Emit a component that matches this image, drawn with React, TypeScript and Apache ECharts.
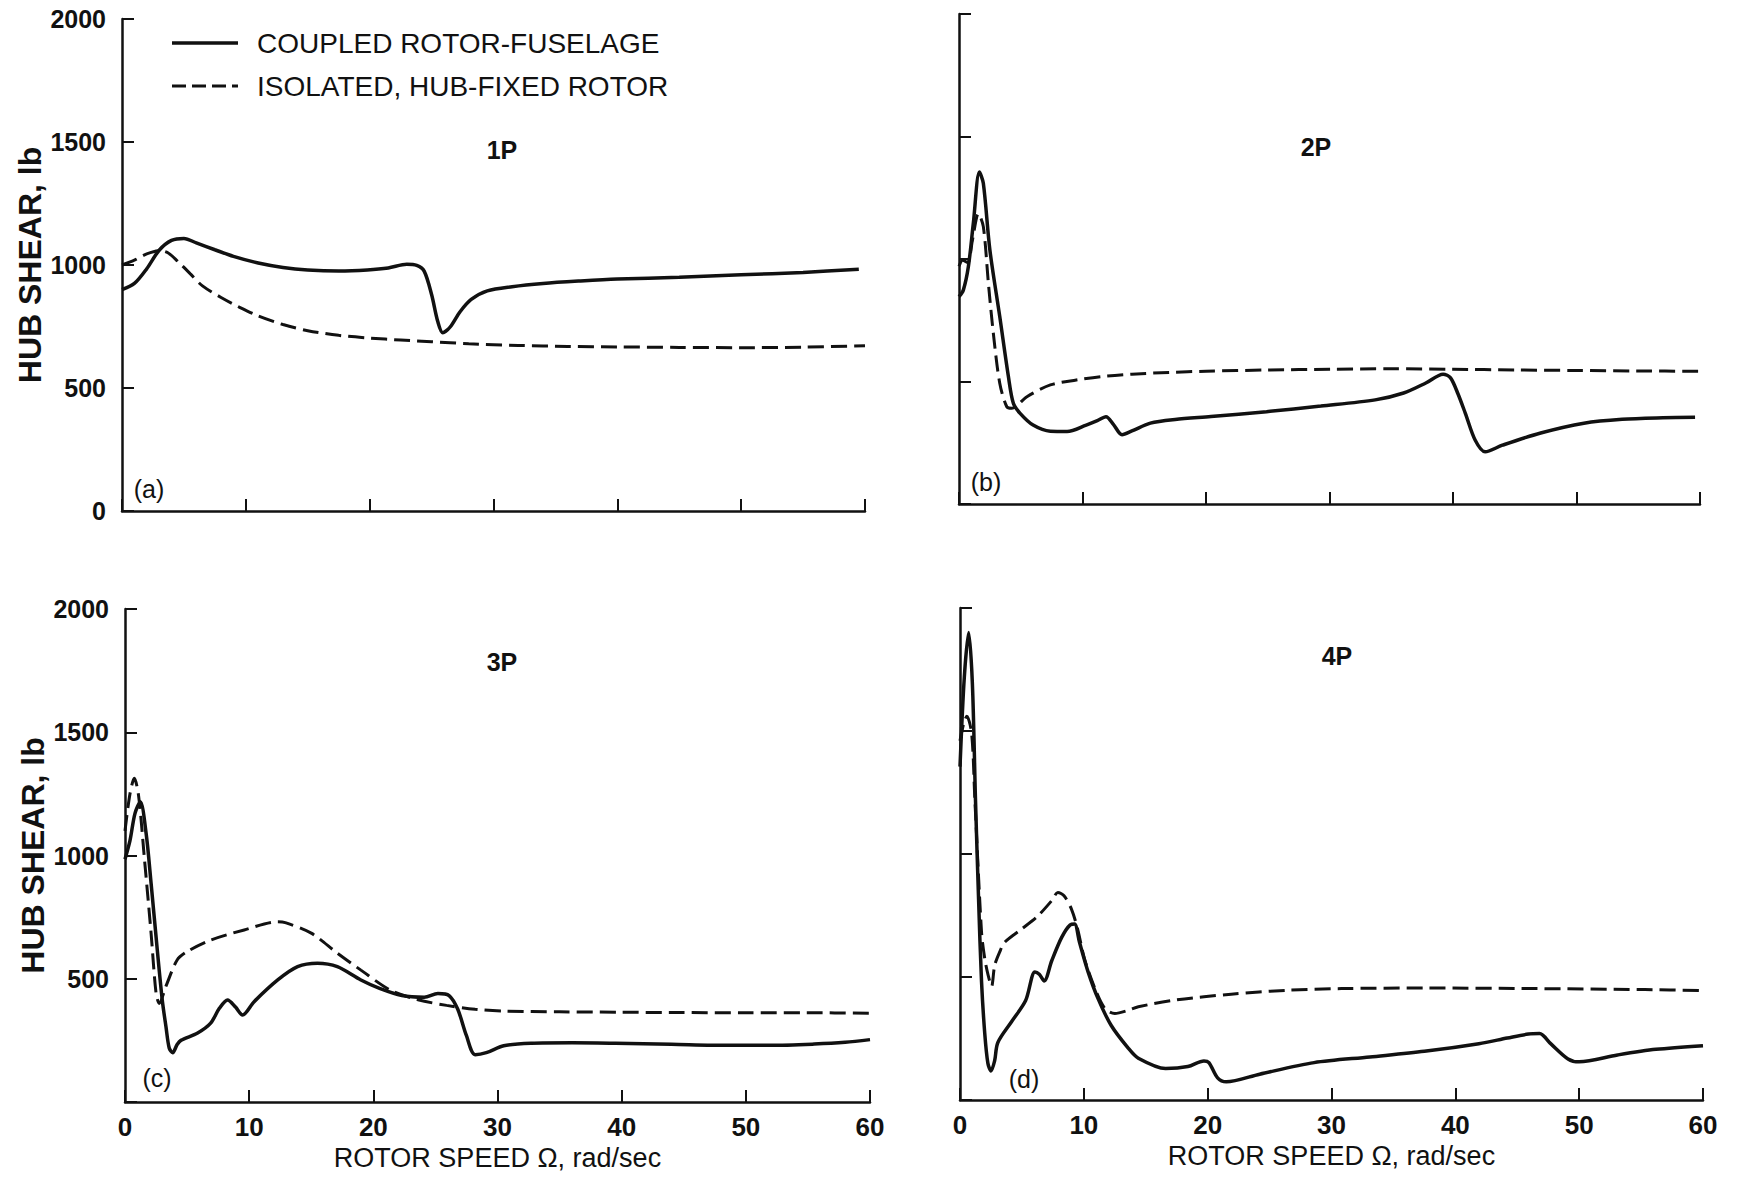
import React, { useEffect, useRef } from "react";
import * as echarts from "echarts";

// Rotor speed Ω (rad/sec) vs hub shear (lb)
const xTicks = [0, 10, 20, 30, 40, 50, 60];
const yTicks = [0, 500, 1000, 1500, 2000];
const seriesNames = ["COUPLED ROTOR-FUSELAGE", "ISOLATED, HUB-FIXED ROTOR"];
const panelHarmonics = ["1P", "2P", "3P", "4P"];
const panelTags = ["(a)", "(b)", "(c)", "(d)"];

const coupled1P: number[][] = [
  [0, 900], [1, 925], [2, 985], [3, 1060], [4, 1100], [5, 1108], [6, 1090], [7.5, 1062], [9, 1035],
  [11, 1008], [13, 990], [15, 980], [17.5, 976], [19.8, 980], [21.5, 988], [23, 1003], [23.8, 998],
  [24.4, 975], [25, 880], [25.5, 770], [25.9, 725], [26.5, 748], [27.3, 810], [28.2, 860], [29.5, 895],
  [31.5, 912], [34, 925], [37, 935], [40, 943], [45, 950], [50, 960], [55, 970], [59.5, 983],
];
const isolated1P: number[][] = [
  [0, 1000], [1, 1020], [2, 1045], [3, 1058], [3.7, 1050], [4.5, 1015], [5.5, 965], [6.5, 915], [8, 868],
  [9.5, 828], [11, 793], [13, 758], [15, 733], [17.5, 714], [20, 703], [22.5, 695], [25, 688], [28, 680],
  [32, 673], [36, 669], [40, 667], [45, 665], [50, 664], [55, 666], [60, 672],
];
const coupled2P: number[][] = [
  [0, 846], [0.35, 873], [0.76, 969], [1.16, 1146], [1.65, 1355], [1.97, 1309], [2.5, 1037], [3.3, 765],
  [4.0, 520], [4.4, 411], [4.95, 370], [6.0, 322], [7.4, 297], [8.75, 296], [10.3, 322], [11.2, 340],
  [11.9, 356], [12.5, 325], [13.2, 283], [14, 298], [15.5, 330], [17.5, 345], [20.4, 357], [24.9, 377],
  [29.3, 400], [33.7, 425], [36, 453], [37.8, 494], [39.2, 530], [39.8, 515], [40.4, 450], [41, 370],
  [41.8, 260], [42.6, 213], [44, 240], [47.1, 290], [50.6, 330], [53.7, 346], [57, 352], [59.6, 354],
];
const isolated2P: number[][] = [
  [0, 970], [0.3, 995], [0.7, 985], [1.1, 1080], [1.57, 1185], [1.97, 1132], [2.38, 901], [2.78, 697],
  [3.3, 493], [3.87, 397], [4.27, 391], [5.5, 438], [7.4, 486], [9.5, 506], [11.5, 520], [14, 530],
  [17, 537], [20, 542], [25, 547], [30, 550], [35, 552], [40, 550], [45, 547], [50, 545], [55, 543], [60, 542],
];
const coupled3P: number[][] = [
  [0, 985], [0.4, 1060], [0.8, 1170], [1.23, 1218], [1.7, 1090], [2.1, 888], [2.6, 617], [3.0, 414],
  [3.3, 305], [3.56, 219], [3.84, 200], [4.2, 233], [4.5, 250], [5.85, 280], [6.9, 320], [7.6, 380],
  [8.26, 414], [8.9, 385], [9.47, 353], [10.4, 407], [12.3, 495], [13.9, 549], [15.5, 563], [17.1, 549],
  [19, 495], [20.5, 461], [22.3, 432], [24.1, 425], [25.2, 440], [26.1, 432], [26.8, 376], [27.5, 269],
  [28.2, 192], [29.1, 200], [30.5, 228], [32.7, 238], [36, 240], [39.5, 238], [44, 234], [48.6, 230],
  [52, 230], [55.5, 235], [58, 242], [60, 253],
];
const isolated3P: number[][] = [
  [0, 1100], [0.4, 1250], [0.75, 1313], [1.1, 1240], [1.55, 995], [2.1, 685], [2.5, 442], [2.76, 400],
  [3.3, 470], [4.2, 576], [5, 610], [6.9, 657], [9.6, 698], [12.3, 731], [12.9, 728], [15, 685],
  [17.1, 604], [19, 535], [21.4, 453], [23.6, 415], [25.9, 392], [28.2, 376], [30.5, 369], [35, 366],
  [40, 364], [44, 363], [50, 362], [55, 362], [60, 360],
];
const coupled4P: number[][] = [
  [0, 1355], [0.35, 1720], [0.7, 1900], [1.0, 1692], [1.25, 1221], [1.5, 816], [1.74, 480], [2.0, 270],
  [2.25, 150], [2.5, 118], [2.8, 160], [3.05, 233], [4.16, 318], [5.3, 404], [6.05, 520], [6.4, 511],
  [6.8, 484], [7.4, 565], [8.2, 660], [8.9, 712], [9.25, 715], [9.65, 641], [10.35, 520], [11.15, 412],
  [12.2, 304], [13.6, 210], [14.4, 170], [16.6, 128], [18.4, 136], [19.7, 159], [20.1, 152], [20.8, 90],
  [21.5, 74], [24.2, 105], [28.6, 152], [33.1, 175], [37.5, 198], [41.9, 229], [44.2, 252], [45.9, 268],
  [46.8, 270], [47.7, 229], [49.1, 167], [50, 155], [53.1, 183], [56.2, 206], [60, 221],
];
const isolated4P: number[][] = [
  [0, 1460], [0.3, 1530], [0.55, 1560], [0.94, 1490], [1.2, 1221], [1.74, 682], [2.0, 574], [2.28, 506],
  [2.55, 462], [2.8, 547], [3.2, 601], [3.6, 641], [4.97, 695], [6.2, 744], [7.4, 810], [7.9, 844],
  [8.4, 830], [9.0, 776], [9.5, 695], [10.05, 574], [10.9, 453], [11.7, 372], [12.5, 352], [13.6, 365],
  [14.4, 379], [17.5, 407], [21.9, 430], [26.4, 446], [30.8, 453], [37.5, 455], [46.4, 453], [55.3, 449],
  [60, 445],
];

const coupledPanels = [coupled1P, coupled2P, coupled3P, coupled4P];
const isolatedPanels = [isolated1P, isolated2P, isolated3P, isolated4P];

const INK = "#111";
const FONT = "'Liberation Sans', Arial, Helvetica, sans-serif";

const grids = [
  { left: 122, top: 19, width: 743, height: 492 },
  { left: 959, top: 14, width: 741, height: 490 },
  { left: 125, top: 609, width: 745, height: 493 },
  { left: 960, top: 608, width: 743, height: 492 },
];
const harmonicPos = [
  [502, 150], [1316, 147], [502, 662], [1337, 656],
];
const tagPos = [
  [149, 489], [986, 482], [157, 1078], [1024, 1079],
];

export default function App() {
  const ref = useRef<HTMLDivElement>(null);

  useEffect(() => {
    if (!ref.current) return;
    const chart = echarts.init(ref.current, undefined, { renderer: "svg" });

    const xAxes = grids.map((_, i) => ({
      type: "value",
      gridIndex: i,
      min: xTicks[0],
      max: xTicks[xTicks.length - 1],
      interval: 10,
      name: i >= 2 ? "ROTOR SPEED Ω, rad/sec" : "",
      nameLocation: "middle",
      nameGap: 42,
      nameTextStyle: { fontFamily: FONT, fontSize: 27, color: INK },
      axisLine: { show: true, onZero: false, lineStyle: { color: INK, width: 2.5 } },
      axisTick: { show: true, inside: true, length: 12, lineStyle: { color: INK, width: 2 } },
      axisLabel: {
        show: i >= 2,
        fontFamily: FONT,
        fontSize: 26,
        fontWeight: "bold",
        color: INK,
        margin: 12,
      },
      splitLine: { show: false },
    }));

    const yAxes = grids.map((_, i) => ({
      type: "value",
      gridIndex: i,
      min: yTicks[0],
      max: yTicks[yTicks.length - 1],
      interval: 500,
      name: i % 2 === 0 ? "HUB SHEAR, lb" : "",
      nameLocation: "middle",
      nameRotate: 90,
      nameGap: 75,
      nameTextStyle: { fontFamily: FONT, fontSize: 32, fontWeight: "bold", color: INK },
      axisLine: { show: true, onZero: false, lineStyle: { color: INK, width: 2.5 } },
      axisTick: { show: true, inside: true, length: 12, lineStyle: { color: INK, width: 2 } },
      axisLabel: {
        show: i % 2 === 0,
        fontFamily: FONT,
        fontSize: 25,
        fontWeight: "bold",
        color: INK,
        margin: 16,
        formatter: (v: number) => (i === 2 && v === 0 ? "" : String(v)),
      },
      splitLine: { show: false },
    }));

    const series: any[] = [];
    grids.forEach((_, i) => {
      series.push({
        name: seriesNames[0],
        type: "line",
        xAxisIndex: i,
        yAxisIndex: i,
        data: coupledPanels[i],
        showSymbol: false,
        symbol: "none",
        smooth: 0.3,
        lineStyle: { color: INK, width: 3.5, type: "solid" },
        z: 3,
      });
      series.push({
        name: seriesNames[1],
        type: "line",
        xAxisIndex: i,
        yAxisIndex: i,
        data: isolatedPanels[i],
        showSymbol: false,
        symbol: "none",
        smooth: 0.3,
        lineStyle: { color: INK, width: 3, type: [16, 7] },
        z: 2,
      });
    });

    const graphics: any[] = [
      {
        type: "line",
        shape: { x1: 172, y1: 43, x2: 238, y2: 43 },
        style: { stroke: INK, lineWidth: 3.5 },
      },
      {
        type: "line",
        shape: { x1: 172, y1: 86, x2: 238, y2: 86 },
        style: { stroke: INK, lineWidth: 3, lineDash: [14, 6] },
      },
      {
        type: "text",
        x: 257,
        y: 43,
        style: { text: seriesNames[0], fill: INK, font: `28px ${FONT}`, verticalAlign: "middle", align: "left" },
      },
      {
        type: "text",
        x: 257,
        y: 86,
        style: { text: seriesNames[1], fill: INK, font: `28px ${FONT}`, verticalAlign: "middle", align: "left" },
      },
    ];
    panelHarmonics.forEach((t, i) => {
      graphics.push({
        type: "text",
        x: harmonicPos[i][0],
        y: harmonicPos[i][1],
        style: { text: t, fill: INK, font: `bold 25px ${FONT}`, align: "center", verticalAlign: "middle" },
      });
    });
    panelTags.forEach((t, i) => {
      graphics.push({
        type: "text",
        x: tagPos[i][0],
        y: tagPos[i][1],
        style: { text: t, fill: INK, font: `25px ${FONT}`, align: "center", verticalAlign: "middle" },
      });
    });

    chart.setOption({
      animation: false,
      backgroundColor: "#fff",
      grid: grids.map((g) => ({ ...g, containLabel: false })),
      xAxis: xAxes,
      yAxis: yAxes,
      series,
      graphic: graphics,
    });

    return () => chart.dispose();
  }, []);

  return (
    <div
      ref={ref}
      style={{ position: "absolute", left: 0, top: 0, width: 1737, height: 1177, background: "#fff" }}
    />
  );
}
